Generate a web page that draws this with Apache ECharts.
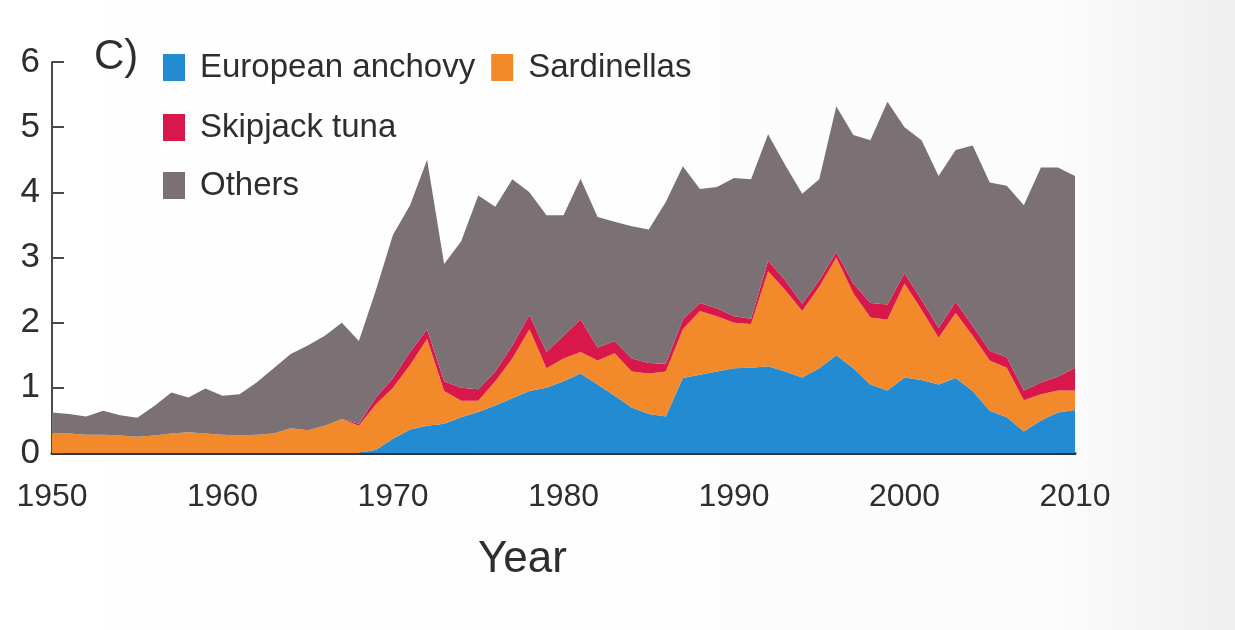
<!DOCTYPE html>
<html>
<head>
<meta charset="utf-8">
<script src="https://cdn.jsdelivr.net/npm/echarts@6/dist/echarts.min.js"></script>
<style>
  html, body { margin: 0; padding: 0; background: #fff; }
  #chart { width: 1235px; height: 630px; }
</style>
</head>
<body>
<div id="chart"></div>
<script>
// catch in million tonnes, stacked: anchovy at bottom, others on top
const years = [];
for (let y = 1950; y <= 2010; y++) years.push(String(y));

const anchovy = [
  0, 0, 0, 0, 0, 0, 0, 0, 0, 0,
  0, 0, 0, 0, 0, 0, 0, 0, 0, 0.05,
  0.22, 0.36, 0.42, 0.45, 0.55, 0.63, 0.73, 0.84, 0.95, 1.0,
  1.1, 1.22, 1.05, 0.88, 0.7, 0.6, 0.56, 1.15, 1.2, 1.25,
  1.3, 1.31, 1.33, 1.25, 1.16, 1.3, 1.5, 1.3, 1.05, 0.96,
  1.16, 1.12, 1.05, 1.15, 0.95, 0.65, 0.55, 0.33, 0.5, 0.62,
  0.66
];
const sardinellas = [
  0.30, 0.30, 0.28, 0.28, 0.27, 0.25, 0.27, 0.30, 0.32, 0.30,
  0.28, 0.27, 0.28, 0.30, 0.38, 0.35, 0.42, 0.52, 0.42, 0.70,
  0.78, 0.99, 1.33, 0.50, 0.25, 0.17, 0.37, 0.61, 0.95, 0.30,
  0.35, 0.33, 0.37, 0.65, 0.55, 0.62, 0.69, 0.75, 0.98, 0.85,
  0.70, 0.67, 1.46, 1.25, 1.02, 1.25, 1.50, 1.15, 1.03, 1.09,
  1.44, 1.08, 0.72, 1.00, 0.85, 0.77, 0.76, 0.48, 0.40, 0.34,
  0.30
];
const skipjack = [
  0, 0, 0, 0, 0, 0, 0, 0, 0, 0,
  0, 0, 0, 0, 0, 0, 0, 0, 0.03, 0.10,
  0.15, 0.20, 0.15, 0.15, 0.20, 0.18, 0.15, 0.20, 0.22, 0.25,
  0.35, 0.50, 0.20, 0.19, 0.20, 0.16, 0.12, 0.15, 0.12, 0.12,
  0.10, 0.08, 0.16, 0.15, 0.11, 0.10, 0.08, 0.15, 0.22, 0.23,
  0.16, 0.15, 0.15, 0.17, 0.15, 0.15, 0.16, 0.15, 0.18, 0.21,
  0.35
];
const others = [
  0.32, 0.30, 0.28, 0.37, 0.31, 0.29, 0.45, 0.63, 0.53, 0.69,
  0.60, 0.63, 0.80, 1.00, 1.14, 1.30, 1.38, 1.48, 1.27, 1.65,
  2.20, 2.25, 2.60, 1.80, 2.25, 2.97, 2.53, 2.55, 1.88, 2.10,
  1.85, 2.16, 2.00, 1.83, 2.03, 2.05, 2.48, 2.35, 1.75, 1.86,
  2.12, 2.14, 1.94, 1.77, 1.69, 1.55, 2.24, 2.28, 2.50, 3.11,
  2.24, 2.45, 2.33, 2.33, 2.77, 2.58, 2.63, 2.84, 3.30, 3.21,
  2.94
];

const names = ["European anchovy", "Sardinellas", "Skipjack tuna", "Others"];
const colors = ["#228bd2", "#f28a2c", "#d8174b", "#7b7174"];
const values = [anchovy, sardinellas, skipjack, others];

const font = "Liberation Sans, Arial, sans-serif";
const textColor = "#2e2e2e";
const chart = echarts.init(document.getElementById("chart"));

const legendBase = {
  orient: "horizontal",
  left: 158,
  icon: "rect",
  itemWidth: 22,
  itemHeight: 27,
  itemGap: 16,
  selectedMode: false,
  textStyle: { fontFamily: font, fontSize: 33, color: textColor, padding: [0, 0, 0, 10] }
};

chart.setOption({
  backgroundColor: {
    type: "linear", x: 0, y: 0, x2: 1, y2: 0,
    colorStops: [
      { offset: 0, color: "#ffffff" },
      { offset: 0.85, color: "#fcfcfc" },
      { offset: 1, color: "#efefef" }
    ]
  },
  animation: false,
  grid: { left: 52, right: 160, top: 62, bottom: 177 },
  legend: [
    Object.assign({}, legendBase, { top: 46, data: names.slice(0, 2) }),
    Object.assign({}, legendBase, { top: 106, data: [names[2]] }),
    Object.assign({}, legendBase, { top: 164, data: [names[3]] })
  ],
  graphic: [
    {
      type: "text", left: 94, top: 36,
      style: { text: "C)", font: "42px " + font, fill: textColor }
    },
    {
      type: "text", left: 478, top: 538,
      style: { text: "Year", font: "44px " + font, fill: textColor }
    }
  ],
  xAxis: {
    type: "category",
    data: years,
    boundaryGap: false,
    axisLine: { show: true, lineStyle: { color: "#2b3440", width: 3 } },
    axisTick: { show: false },
    axisLabel: {
      interval: 0,
      margin: 28,
      fontFamily: font,
      fontSize: 32,
      color: textColor,
      formatter: function (v) { return Number(v) % 10 === 0 ? v : ""; }
    },
    splitLine: { show: false }
  },
  yAxis: {
    type: "value",
    min: 0,
    max: 6,
    interval: 1,
    axisLine: { show: true, lineStyle: { color: "#4a4a4a", width: 2 } },
    axisTick: { show: true, inside: true, length: 12, lineStyle: { color: "#4a4a4a", width: 2 } },
    axisLabel: { margin: 12, fontFamily: font, fontSize: 35, color: textColor },
    splitLine: { show: false }
  },
  series: names.map(function (n, i) {
    return {
      name: n,
      type: "line",
      stack: "catch",
      data: values[i],
      showSymbol: false,
      symbol: "none",
      lineStyle: { width: 0 },
      itemStyle: { color: colors[i] },
      areaStyle: { color: colors[i], opacity: 1 }
    };
  })
});
</script>
</body>
</html>
